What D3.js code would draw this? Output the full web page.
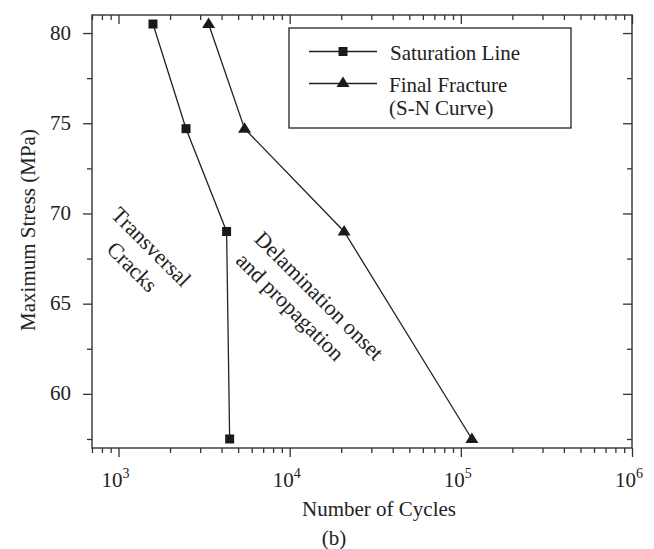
<!DOCTYPE html>
<html>
<head>
<meta charset="utf-8">
<script src="https://cdn.jsdelivr.net/npm/d3@7"></script>
<style>
  body { margin: 0; background: #fff; }
  svg text { font-family: "Liberation Serif", "Times New Roman", serif; fill: #222; }
  .tick line { stroke: #333; stroke-width: 1.3; }
</style>
</head>
<body>
<div id="chart"></div>
<script>
// data
var satCycles = [1590, 2480, 4280, 4460];
var satStress = [80.5, 74.7, 69.0, 57.5];
var fracCycles = [3360, 5450, 20800, 116000];
var fracStress = [80.5, 74.7, 69.0, 57.5];

var xMajor = [1e3, 1e4, 1e5, 1e6];
var xExp = ["3", "4", "5", "6"];
var xMinor = [700, 800, 900, 2e3, 3e3, 4e3, 5e3, 6e3, 7e3, 8e3, 9e3,
  2e4, 3e4, 4e4, 5e4, 6e4, 7e4, 8e4, 9e4,
  2e5, 3e5, 4e5, 5e5, 6e5, 7e5, 8e5, 9e5];
var yMajor = [60, 65, 70, 75, 80];
var yMinor = [57.5, 62.5, 67.5, 72.5, 77.5];

var svgWidth = 654;
var svgHeight = 549;
var plot = { left: 92, right: 632, top: 15, bottom: 448 };

var svg = d3.select("#chart")
  .append("svg")
  .attr("width", svgWidth)
  .attr("height", svgHeight);

var x = d3.scaleLog().domain([700, 1e6]).range([plot.left, plot.right]);
var y = d3.scaleLinear().domain([57, 81]).range([plot.bottom, plot.top]);

function addAxis(axis, tx, ty) {
  var g = svg.append("g")
    .attr("transform", `translate(${tx}, ${ty})`)
    .call(axis.tickFormat("").tickSizeOuter(0));
  g.select(".domain").remove();
  return g;
}

// bottom (outward) and top (inward)
addAxis(d3.axisBottom(x).tickValues(xMajor).tickSize(9), 0, plot.bottom);
addAxis(d3.axisBottom(x).tickValues(xMinor).tickSize(5), 0, plot.bottom);
addAxis(d3.axisBottom(x).tickValues(xMajor).tickSize(9), 0, plot.top);
addAxis(d3.axisBottom(x).tickValues(xMinor).tickSize(5), 0, plot.top);
// left (outward) and right (inward)
addAxis(d3.axisLeft(y).tickValues(yMajor).tickSize(9), plot.left, 0);
addAxis(d3.axisLeft(y).tickValues(yMinor).tickSize(5), plot.left, 0);
addAxis(d3.axisLeft(y).tickValues(yMajor).tickSize(9), plot.right, 0);
addAxis(d3.axisLeft(y).tickValues(yMinor).tickSize(5), plot.right, 0);

svg.append("rect")
  .attr("x", plot.left)
  .attr("y", plot.top)
  .attr("width", plot.right - plot.left)
  .attr("height", plot.bottom - plot.top)
  .attr("fill", "none")
  .attr("stroke", "#333")
  .attr("stroke-width", 1.4);

// tick labels
svg.selectAll(".ylab")
  .data(yMajor)
  .enter()
  .append("text")
  .attr("x", plot.left - 21)
  .attr("y", d => y(d) + 6.5)
  .attr("text-anchor", "end")
  .attr("font-size", "21px")
  .text(d => d);

var xl = svg.selectAll(".xlab")
  .data(xMajor)
  .enter()
  .append("text")
  .attr("x", d => x(d) - 3)
  .attr("y", plot.bottom + 39)
  .attr("text-anchor", "middle")
  .attr("font-size", "21px");
xl.append("tspan").text("10");
xl.append("tspan")
  .attr("font-size", "14px")
  .attr("dy", -9)
  .text((d, i) => xExp[i]);

// axis titles
svg.append("text")
  .attr("x", 379)
  .attr("y", 516)
  .attr("text-anchor", "middle")
  .attr("font-size", "21px")
  .text("Number of Cycles");

svg.append("text")
  .attr("transform", "translate(35, 230) rotate(-90)")
  .attr("text-anchor", "middle")
  .attr("font-size", "21px")
  .text("Maximum Stress (MPa)");

svg.append("text")
  .attr("x", 334)
  .attr("y", 545)
  .attr("text-anchor", "middle")
  .attr("font-size", "21px")
  .text("(b)");

// series
var satData = satCycles.map((c, i) => ({ c: c, s: satStress[i] }));
var fracData = fracCycles.map((c, i) => ({ c: c, s: fracStress[i] }));

var line = d3.line()
  .x(d => x(d.c))
  .y(d => y(d.s));

var trianglePath = "M0,-6.5L6.5,4L-6.5,4Z";

[satData, fracData].forEach(function(data) {
  svg.append("path")
    .datum(data)
    .attr("d", line)
    .attr("fill", "none")
    .attr("stroke", "#222")
    .attr("stroke-width", 1.3);
});

svg.selectAll(".sq")
  .data(satData)
  .enter()
  .append("rect")
  .attr("x", d => x(d.c) - 4.5)
  .attr("y", d => y(d.s) - 4.5)
  .attr("width", 9)
  .attr("height", 9)
  .attr("fill", "#1a1a1a");

svg.selectAll(".tri")
  .data(fracData)
  .enter()
  .append("path")
  .attr("transform", d => `translate(${x(d.c)}, ${y(d.s)})`)
  .attr("d", trianglePath)
  .attr("fill", "#1a1a1a");

// legend
var legend = svg.append("g");
legend.append("rect")
  .attr("x", 289)
  .attr("y", 28)
  .attr("width", 282)
  .attr("height", 100)
  .attr("fill", "#fff")
  .attr("stroke", "#222")
  .attr("stroke-width", 1.3);

legend.append("line")
  .attr("x1", 309).attr("x2", 377)
  .attr("y1", 51.5).attr("y2", 51.5)
  .attr("stroke", "#222").attr("stroke-width", 1.3);
legend.append("rect")
  .attr("x", 343 - 4.5).attr("y", 51.5 - 4.5)
  .attr("width", 9).attr("height", 9)
  .attr("fill", "#1a1a1a");
legend.append("text")
  .attr("x", 390).attr("y", 59.5)
  .attr("font-size", "21px")
  .text("Saturation Line");

legend.append("line")
  .attr("x1", 309).attr("x2", 377)
  .attr("y1", 83.5).attr("y2", 83.5)
  .attr("stroke", "#222").attr("stroke-width", 1.3);
legend.append("path")
  .attr("transform", "translate(343, 83)")
  .attr("d", trianglePath)
  .attr("fill", "#1a1a1a");
legend.append("text")
  .attr("x", 389).attr("y", 91.5)
  .attr("font-size", "21px")
  .text("Final Fracture");
legend.append("text")
  .attr("x", 389).attr("y", 114.5)
  .attr("font-size", "21px")
  .text("(S-N Curve)");

// region annotations
var notes = [
  { t: "Transversal", x: 146, y: 252 },
  { t: "Cracks", x: 127, y: 272 },
  { t: "Delamination onset", x: 314, y: 301 },
  { t: "and propagation", x: 285, y: 312 }
];
svg.selectAll(".note")
  .data(notes)
  .enter()
  .append("text")
  .attr("transform", d => `translate(${d.x}, ${d.y}) rotate(45)`)
  .attr("text-anchor", "middle")
  .attr("font-size", "22px")
  .text(d => d.t);
</script>
</body>
</html>
